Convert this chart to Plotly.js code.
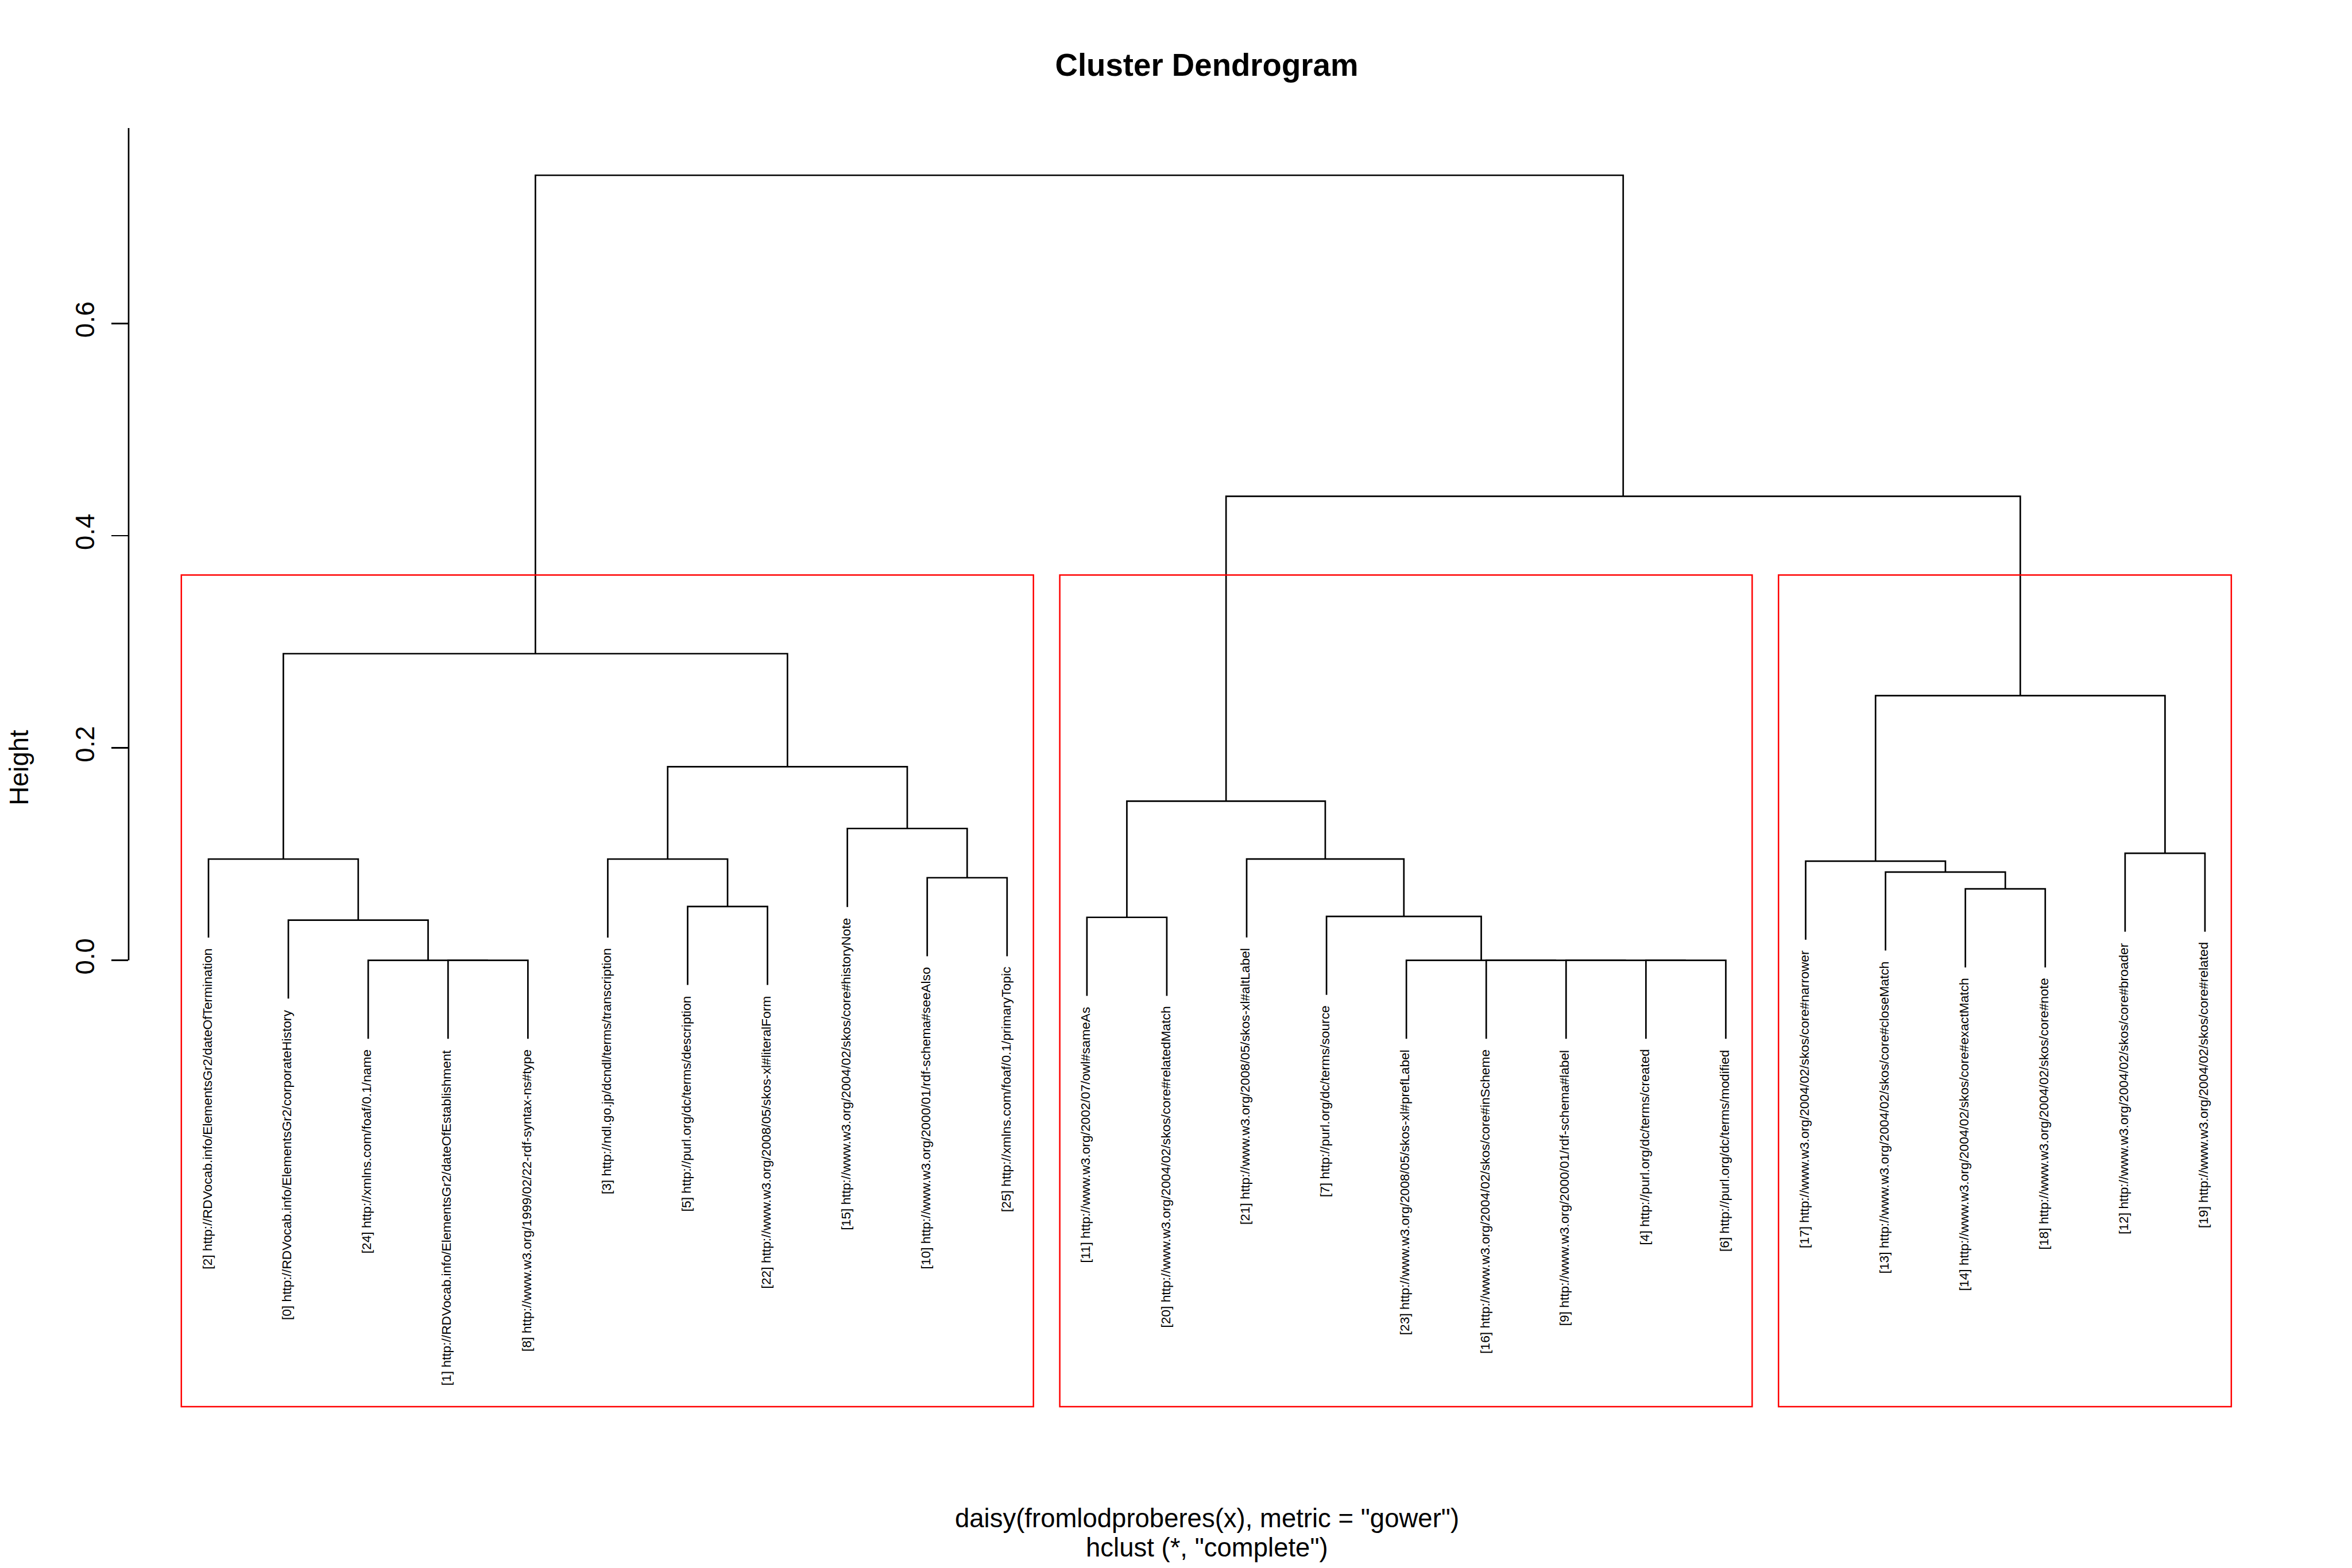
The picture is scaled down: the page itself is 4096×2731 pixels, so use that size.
<!DOCTYPE html>
<html>
<head>
<meta charset="utf-8">
<script src="https://cdn.plot.ly/plotly-3.0.1.min.js"></script>
<style>
html,body{margin:0;padding:0;background:#ffffff;}
#chart{width:4096px;height:2731px;}
</style>
</head>
<body>
<div id="chart"></div>
<script>
// ---------------- data ----------------
const leafLabels = [
  "[2] http://RDVocab.info/ElementsGr2/dateOfTermination",
  "[0] http://RDVocab.info/ElementsGr2/corporateHistory",
  "[24] http://xmlns.com/foaf/0.1/name",
  "[1] http://RDVocab.info/ElementsGr2/dateOfEstablishment",
  "[8] http://www.w3.org/1999/02/22-rdf-syntax-ns#type",
  "[3] http://ndl.go.jp/dcndl/terms/transcription",
  "[5] http://purl.org/dc/terms/description",
  "[22] http://www.w3.org/2008/05/skos-xl#literalForm",
  "[15] http://www.w3.org/2004/02/skos/core#historyNote",
  "[10] http://www.w3.org/2000/01/rdf-schema#seeAlso",
  "[25] http://xmlns.com/foaf/0.1/primaryTopic",
  "[11] http://www.w3.org/2002/07/owl#sameAs",
  "[20] http://www.w3.org/2004/02/skos/core#relatedMatch",
  "[21] http://www.w3.org/2008/05/skos-xl#altLabel",
  "[7] http://purl.org/dc/terms/source",
  "[23] http://www.w3.org/2008/05/skos-xl#prefLabel",
  "[16] http://www.w3.org/2004/02/skos/core#inScheme",
  "[9] http://www.w3.org/2000/01/rdf-schema#label",
  "[4] http://purl.org/dc/terms/created",
  "[6] http://purl.org/dc/terms/modified",
  "[17] http://www.w3.org/2004/02/skos/core#narrower",
  "[13] http://www.w3.org/2004/02/skos/core#closeMatch",
  "[14] http://www.w3.org/2004/02/skos/core#exactMatch",
  "[18] http://www.w3.org/2004/02/skos/core#note",
  "[12] http://www.w3.org/2004/02/skos/core#broader",
  "[19] http://www.w3.org/2004/02/skos/core#related"
];

// hclust-style merge table: negative = leaf (position in display order), positive = earlier merge row
const mergeLeft   = [-4, -3, -2, -1, -7, -6, -10, -9, 6, 4, -19, -18, -17, -16, -15, -14, -12, 17, -23, -22, -21, -25, 21, 18, 10];
const mergeRight  = [-5,  1,  2,  3, -8,  5, -11,  7, 8, 9, -20,  11,  12,  13,  14,  15, -13, 16, -24,  19,  20, -26, 22, 23, 24];
const mergeHeight = [0, 0, 0.0379, 0.0954, 0.0507, 0.0954, 0.0778, 0.1242, 0.1824, 0.2889,
                     0, 0, 0, 0, 0.0414, 0.0955, 0.0405, 0.1500,
                     0.0673, 0.0832, 0.0934, 0.1009, 0.2493, 0.4372, 0.7396];

const clusterSizes = [11, 9, 6];           // rect.hclust(k = 3)
const hangFraction = 0.1;

const yTickVals = [0, 0.2, 0.4, 0.6];
const yTickText = ["0.0", "0.2", "0.4", "0.6"];

const titleText = "Cluster Dendrogram";
const xLabelText = 'daisy(fromlodproberes(x), metric = "gower")';
const subLabelText = 'hclust (*, "complete")';
const yLabelText = "Height";

// ---------------- layout geometry ----------------
const W = 4096, H = 2731;
const S = W / 4500;                         // scale from reference
const FONT = "Liberation Sans, Arial, Helvetica, sans-serif";
const yRange = [-0.4205, 0.7841];
const xRange = [0, leafLabels.length + 1];

// ---------------- build dendrogram ----------------
const maxH = Math.max(...mergeHeight);
const hang = hangFraction * maxH;
const centers = [];
const leafEnd = [];
function cx(id) { return id < 0 ? -id : centers[id - 1]; }
function cy(id, h) { return id < 0 ? h - hang : mergeHeight[id - 1]; }

const lx = [], ly = [];
for (let i = 0; i < mergeHeight.length; i++) {
  const a = mergeLeft[i], b = mergeRight[i], h = mergeHeight[i];
  centers[i] = (cx(a) + cx(b)) / 2;
  lx.push(cx(a), cx(a), cx(b), cx(b), null);
  ly.push(cy(a, h), h, h, cy(b, h), null);
  if (a < 0) leafEnd[-a] = h - hang;
  if (b < 0) leafEnd[-b] = h - hang;
}

const dendroTrace = {
  type: 'scatter', mode: 'lines', x: lx, y: ly,
  line: { color: '#000000', width: 2.7 },
  hoverinfo: 'skip', showlegend: false
};

// ---------------- annotations ----------------
const annotations = [];
leafLabels.forEach((t, i) => {
  annotations.push({
    x: i + 1, y: leafEnd[i + 1], xref: 'x', yref: 'y',
    text: t, textangle: -90, showarrow: false,
    xanchor: 'center', yanchor: 'top', xshift: -2.4, yshift: -17.6,
    borderpad: 0,
    font: { family: FONT, size: 25 * S, color: '#000000' }
  });
});

annotations.push({
  x: 0.5, y: 0, xref: 'paper', yref: 'paper', text: xLabelText, showarrow: false,
  xanchor: 'center', yanchor: 'middle', yshift: -194, borderpad: 0,
  font: { family: FONT, size: 50 * S, color: '#000000' }
});
annotations.push({
  x: 0.5, y: 0, xref: 'paper', yref: 'paper', text: subLabelText, showarrow: false,
  xanchor: 'center', yanchor: 'middle', yshift: -245, borderpad: 0,
  font: { family: FONT, size: 50 * S, color: '#000000' }
});
annotations.push({
  x: 0, y: 0.5, xref: 'paper', yref: 'paper', text: yLabelText, showarrow: false,
  textangle: -90, xanchor: 'center', yanchor: 'middle', xshift: -190.7, borderpad: 0,
  font: { family: FONT, size: 50 * S, color: '#000000' }
});

// ---------------- shapes ----------------
const shapes = [];
// y axis line from 0 to top of plotting region
shapes.push({
  type: 'line', xref: 'paper', yref: 'y', x0: 0, x1: 0, y0: yTickVals[0], y1: yRange[1],
  line: { color: '#000000', width: 2.7 }
});
// rect.hclust boxes
const sortedH = mergeHeight.slice().sort((p, q) => q - p);
const k = clusterSizes.length;
const rectTop = (sortedH[k - 2] + sortedH[k - 1]) / 2;
const rectTopPaper = (rectTop - yRange[0]) / (yRange[1] - yRange[0]);
let start = 1;
clusterSizes.forEach(sz => {
  shapes.push({
    type: 'rect', xref: 'x', yref: 'paper',
    x0: start - 0.34, x1: start + sz - 1 + 0.33, y0: 0, y1: rectTopPaper,
    line: { color: '#FF0000', width: 2.5 }, fillcolor: 'rgba(0,0,0,0)'
  });
  start += sz;
});

// ---------------- layout ----------------
const layout = {
  width: W, height: H,
  paper_bgcolor: '#ffffff', plot_bgcolor: '#ffffff',
  margin: { l: 246 * S, r: W - 4372 * S, t: 245.5 * S, b: H - 2692 * S, pad: 0 },
  showlegend: false,
  title: {
    text: titleText, xref: 'paper', x: 0.5, xanchor: 'center',
    yref: 'container', y: 1 - 112.9 / H, yanchor: 'middle',
    font: { family: FONT, size: 60 * S, color: '#000000', weight: 'bold' }
  },
  xaxis: {
    range: xRange, visible: false, showgrid: false, zeroline: false, fixedrange: true
  },
  yaxis: {
    range: yRange, showgrid: false, zeroline: false, showline: false,
    tickmode: 'array', tickvals: yTickVals, ticktext: yTickText,
    ticks: 'outside', ticklen: 29, tickwidth: 2.7, tickcolor: '#000000',
    tickangle: -90, ticklabelstandoff: 12,
    tickfont: { family: FONT, size: 50 * S, color: '#000000' },
    fixedrange: true
  },
  annotations: annotations,
  shapes: shapes
};

Plotly.newPlot('chart', [dendroTrace], layout, { staticPlot: true, displayModeBar: false });
</script>
</body>
</html>
